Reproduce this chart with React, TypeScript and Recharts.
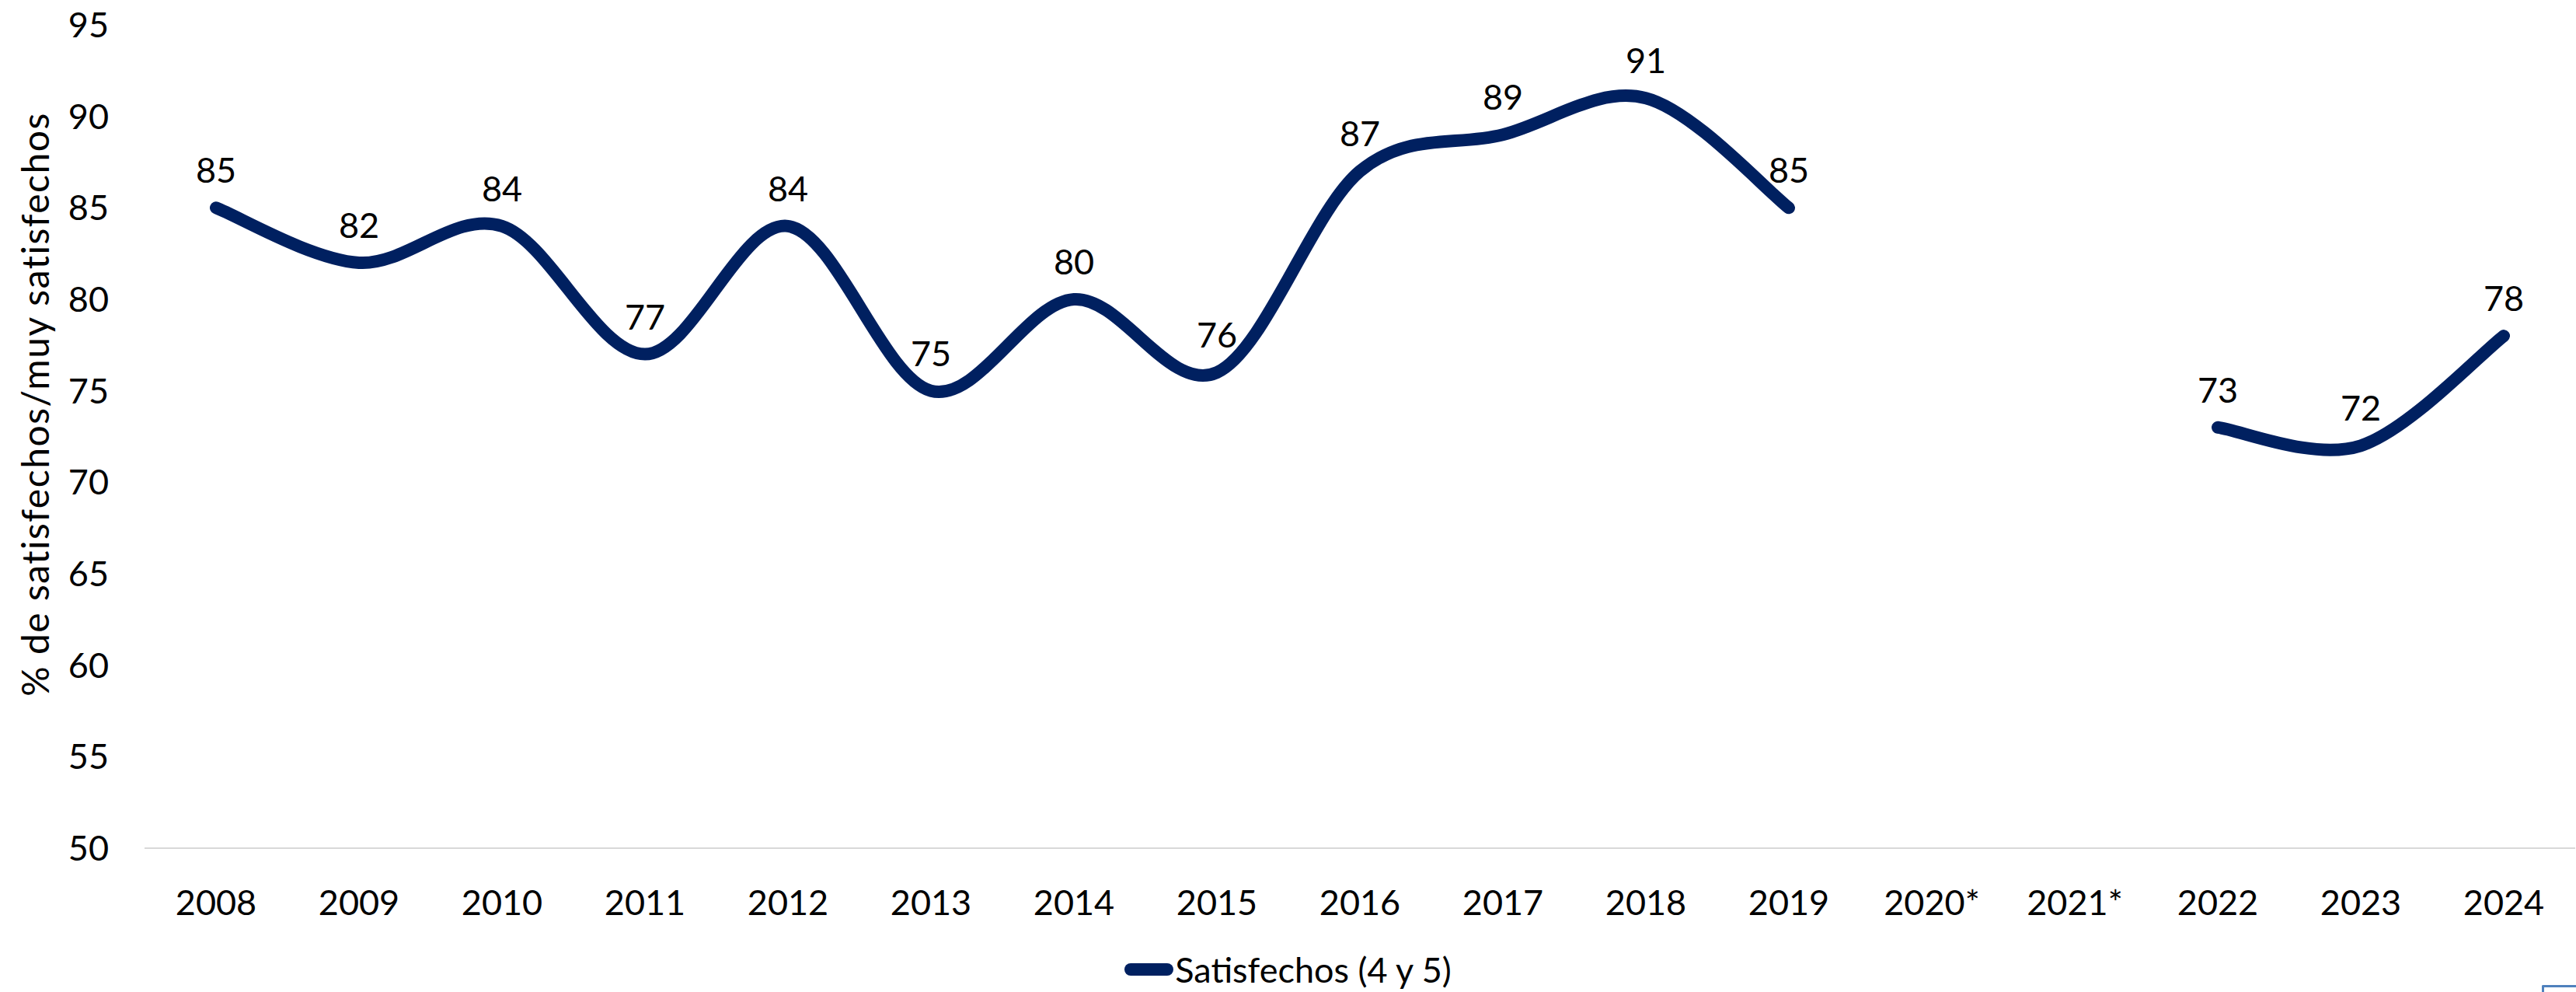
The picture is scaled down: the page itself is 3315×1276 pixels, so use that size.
import React from "react";
import { LineChart, Line, XAxis, YAxis, LabelList } from "recharts";

// years on the x axis; 2020* and 2021* have no survey value
const years = [
  "2008", "2009", "2010", "2011", "2012", "2013", "2014", "2015", "2016",
  "2017", "2018", "2019", "2020*", "2021*", "2022", "2023", "2024",
];
const satisfechos: (number | null)[] = [
  85, 82, 84, 77, 84, 75, 80, 76, 87, 89, 91, 85, null, null, 73, 72, 78,
];
const yTicks = [50, 55, 60, 65, 70, 75, 80, 85, 90, 95];

const data = years.map((year, i) => ({ year, value: satisfechos[i] }));

const NAVY = "#002060";
const FONT = "Lato, 'Open Sans', sans-serif";

// Excel-like smoothed line (Catmull-Rom through each point)
const excelSmooth = (context: any) => {
  let pts: [number, number][] = [];
  return {
    areaStart() {},
    areaEnd() {},
    lineStart() {
      pts = [];
    },
    point(x: number, y: number) {
      pts.push([+x, +y]);
    },
    lineEnd() {
      const n = pts.length;
      if (!n) return;
      context.moveTo(pts[0][0], pts[0][1]);
      if (n === 1) {
        context.lineTo(pts[0][0], pts[0][1]);
        return;
      }
      for (let i = 0; i < n - 1; i++) {
        const p0 = pts[Math.max(i - 1, 0)];
        const p1 = pts[i];
        const p2 = pts[i + 1];
        const p3 = pts[Math.min(i + 2, n - 1)];
        context.bezierCurveTo(
          p1[0] + (p2[0] - p0[0]) / 6,
          p1[1] + (p2[1] - p0[1]) / 6,
          p2[0] - (p3[0] - p1[0]) / 6,
          p2[1] - (p3[1] - p1[1]) / 6,
          p2[0],
          p2[1]
        );
      }
    },
  };
};

const yTitle = () => (
  <text
    transform="translate(44 520) rotate(-90)"
    textAnchor="middle"
    dominantBaseline="central"
    fontFamily={FONT}
    fontSize={48}
    letterSpacing={1.5}
    fill="#000"
  >
    % de satisfechos/muy satisfechos
  </text>
);

export default function App() {
  return (
    <div style={{ position: "relative", width: 3315, height: 1276, background: "#fff", fontFamily: FONT }}>
      <style>{`body{margin:0}`}</style>
      <LineChart
        width={3315}
        height={1276}
        data={data}
        margin={{ top: 32, right: 1, bottom: 155, left: 0 }}
      >
        <XAxis
          dataKey="year"
          interval={0}
          height={30}
          padding={{ left: 92, right: 92 }}
          tickLine={false}
          axisLine={{ stroke: "#d9d9d9", strokeWidth: 2 }}
          tickMargin={48}
          tick={{ fill: "#000", fontSize: 45, fontFamily: FONT }}
        />
        <YAxis
          type="number"
          domain={[50, 95]}
          ticks={yTicks}
          width={186}
          axisLine={false}
          tickLine={false}
          tickMargin={40}
          tick={{ fill: "#000", fontSize: 45, fontFamily: FONT }}
          label={{ content: yTitle }}
        />
        <Line
          dataKey="value"
          type={excelSmooth as any}
          stroke={NAVY}
          strokeWidth={16}
          strokeLinecap="round"
          dot={false}
          activeDot={false}
          connectNulls={false}
          isAnimationActive={false}
        >
          <LabelList
            dataKey="value"
            position="top"
            offset={32}
            fill="#000"
            fontSize={45}
            fontFamily={FONT}
          />
        </Line>
      </LineChart>
      <div
        style={{
          position: "absolute",
          top: 1218,
          left: 0,
          width: 3315,
          display: "flex",
          justifyContent: "center",
          alignItems: "center",
          fontSize: 45,
          color: "#000",
          height: 58,
        }}
      >
        <span
          style={{
            display: "inline-block",
            width: 63,
            height: 16,
            borderRadius: 8,
            background: NAVY,
            marginRight: 2,
          }}
        />
        <span>Satisfechos (4 y 5)</span>
      </div>
      <div
        style={{
          position: "absolute",
          left: 3271,
          top: 1267,
          width: 44,
          height: 9,
          borderTop: "3px solid #4f81bd",
          borderLeft: "3px solid #4f81bd",
          boxSizing: "border-box",
          borderTopLeftRadius: 2,
        }}
      />
    </div>
  );
}
